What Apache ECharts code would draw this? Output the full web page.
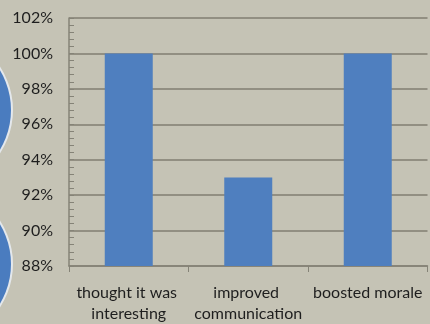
<!DOCTYPE html>
<html><head><meta charset="utf-8">
<script src="https://cdn.jsdelivr.net/npm/echarts@6/dist/echarts.min.js"></script>
<style>html,body{margin:0;padding:0;background:#c5c3b5;overflow:hidden;}#c{width:430px;height:324px;}</style>
</head><body><div id="c"></div>
<script>
var categories = ['thought it was interesting', 'improved communication', 'boosted morale'];
var values = [100, 93, 100];
var yMin = 88, yMax = 102, yStep = 2;

var chart = echarts.init(document.getElementById('c'), null, {renderer: 'canvas'});
chart.setOption({
  backgroundColor: '#c5c3b5',
  animation: false,
  graphic: [
    {type: 'circle', shape: {cx: -66, cy: 110, r: 78}, style: {fill: '#4a7cbf', stroke: '#e4e8ec', lineWidth: 2}, z: 0},
    {type: 'circle', shape: {cx: -66, cy: 264, r: 78}, style: {fill: '#4a7cbf', stroke: '#e4e8ec', lineWidth: 2}, z: 0}
  ],
  grid: {left: 69, top: 18, width: 363, height: 253, containLabel: false},
  xAxis: {
    type: 'category',
    data: categories,
    axisLine: {lineStyle: {color: '#858377', width: 1.5}},
    axisTick: {show: true, length: 6, lineStyle: {color: '#858377'}},
    axisLabel: {color: '#1e1e1e', fontFamily: 'Lato', fontSize: 16, lineHeight: 21, margin: 16, interval: 0, width: 120, overflow: 'break'}
  },
  yAxis: {
    type: 'value',
    min: yMin, max: yMax, interval: yStep,
    axisLine: {show: true, lineStyle: {color: '#858377', width: 1.5}},
    axisTick: {show: true, inside: true, length: 5, lineStyle: {color: '#858377'}},
    minorTick: {show: true, splitNumber: 5, length: 5, lineStyle: {color: '#858377'}},
    splitLine: {show: true, lineStyle: {color: '#807e72', width: 1.5}},
    axisLabel: {color: '#1e1e1e', fontFamily: 'Lato', fontSize: 16, margin: 16, formatter: function(v){return v + '%';}}
  },
  series: [{
    type: 'bar',
    data: values,
    barWidth: 48,
    itemStyle: {color: '#4f7fbf'}
  }]
});
</script>
</body></html>
